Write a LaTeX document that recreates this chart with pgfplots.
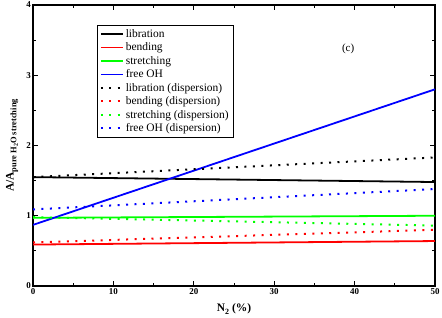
\documentclass[border=0pt]{standalone}
\usepackage{fontspec}
\setmainfont{Liberation Serif}
\usepackage{pgfplots}
\pgfplotsset{compat=1.18}
\begin{document}
\begin{tikzpicture}
\useasboundingbox (-33bp,-32bp) rectangle (409bp,286bp);
\begin{axis}[
  at={(0,0)}, anchor=south west,
  scale only axis, width=402bp, height=281bp,
  xmin=0, xmax=50, ymin=0, ymax=4,
  xtick={0,10,...,50}, ytick={0,1,2,3,4},
  minor xtick={5,15,...,45}, minor ytick={0.5,1.5,2.5,3.5},
  tick align=inside, major tick length=5bp, minor tick length=3bp,
  axis line style={line width=1.3pt},
  tick style={line width=0.8pt, black},
  ticklabel style={font=\bfseries\fontsize{9}{10}\selectfont},
  xticklabel style={yshift=1bp},
  yticklabel style={xshift=1.5bp},
  /pgf/number format/assume math mode=true,
  xlabel={\bfseries N\raisebox{-0.45ex}{\fontsize{8}{9}\selectfont 2} (\%)},
  ylabel={\bfseries A/A\raisebox{-0.5ex}{\fontsize{8.5}{9}\selectfont pure H\raisebox{-0.4ex}{\fontsize{6}{7}\selectfont 2}O stretching}},
  every axis x label/.style={at={(axis description cs:0.5,-0.082)}, anchor=center, font=\bfseries\fontsize{11.5}{12}\selectfont},
  every axis y label/.style={at={(axis description cs:-0.052,0.5)}, anchor=center, rotate=90, font=\bfseries\fontsize{11.5}{12}\selectfont},
  legend style={at={(axis description cs:0.16,0.929)}, anchor=north west, draw=black, line width=0.7pt,
    font=\fontsize{11.5}{12}\selectfont, row sep=0pt, inner sep=2.5pt, outer sep=0pt},
  legend cell align=left,
  legend image code/.code={\draw[mark repeat=2,mark phase=2,#1] plot coordinates {(0bp,0bp) (11bp,0bp) (22bp,0bp)};},
]
\addplot[black, line width=1.8pt] coordinates {(0,1.55) (50,1.48)};
\addlegendentry{libration}
\addplot[red, line width=1.8pt] coordinates {(0,0.59) (50,0.64)};
\addlegendentry{bending}
\addplot[green, line width=1.8pt] coordinates {(0,0.97) (50,1.00)};
\addlegendentry{stretching}
\addplot[blue, line width=1.8pt] coordinates {(0,0.87) (50,2.80)};
\addlegendentry{free OH}
\addplot[black, line width=2pt, dash pattern=on 2pt off 6.5pt] coordinates {(0,1.55) (50,1.83)};
\addlegendentry{libration (dispersion)}
\addplot[red, line width=2pt, dash pattern=on 2pt off 6.5pt] coordinates {(0,0.62) (50,0.80)};
\addlegendentry{bending (dispersion)}
\addplot[green, line width=2pt, dash pattern=on 2pt off 6.5pt] coordinates {(0,0.98) (50,0.86)};
\addlegendentry{stretching (dispersion)}
\addplot[blue, line width=2pt, dash pattern=on 2pt off 6.5pt] coordinates {(0,1.09) (50,1.38)};
\addlegendentry{free OH (dispersion)}
\node[font=\fontsize{11}{12}\selectfont] at (axis cs:39.2,3.37) {(c)};
\end{axis}
\end{tikzpicture}
\end{document}
